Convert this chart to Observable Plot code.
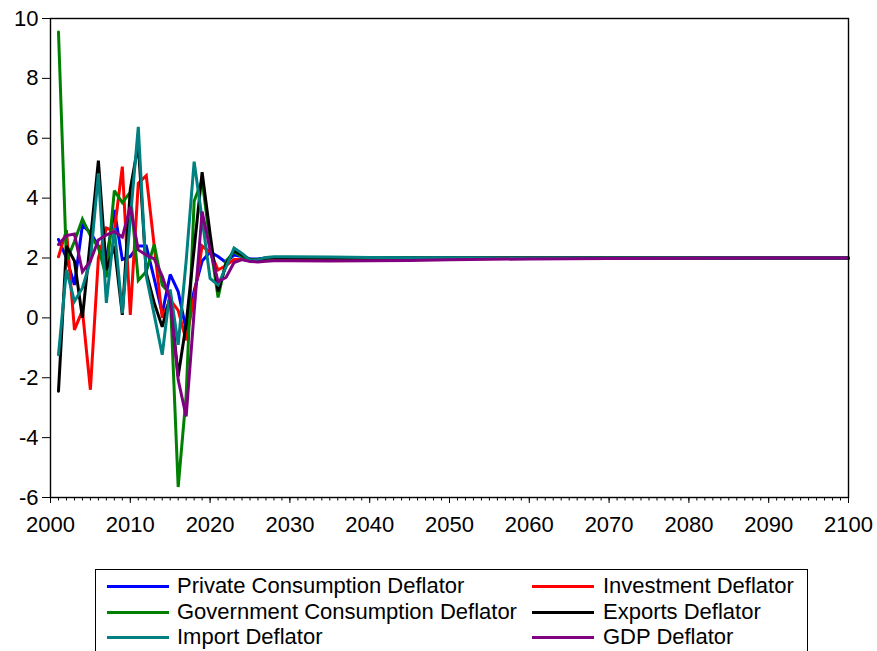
<!DOCTYPE html>
<html>
<head>
<meta charset="utf-8">
<script src="https://cdn.jsdelivr.net/npm/d3@7"></script>
<script src="https://cdn.jsdelivr.net/npm/@observablehq/plot@0.6"></script>
<style>
  html, body { margin: 0; padding: 0; background: #fff; }
  #wrap { position: relative; width: 877px; height: 651px; overflow: hidden; font-family: "Liberation Sans", Arial, sans-serif; }
  #chart svg { display: block; }
  #legend { position: absolute; left: 95px; top: 569px; width: 713px; height: 92px; border: 1px solid #000; box-sizing: border-box; background: #fff; }
  .item { position: absolute; height: 26px; line-height: 26px; font-size: 22px; white-space: nowrap; color: #000; }
  .sw { position: absolute; height: 3px; width: 62px; }
</style>
</head>
<body>
<div id="wrap">
  <div id="chart"></div>
  <div id="legend"></div>
</div>
<script>
// Annual observations through 2030, then the converged projection path
const years = [
  2001, 2002, 2003, 2004, 2005, 2006, 2007, 2008, 2009, 2010,
  2011, 2012, 2013, 2014, 2015, 2016, 2017, 2018, 2019, 2020,
  2021, 2022, 2023, 2024, 2025, 2026, 2027, 2028, 2029, 2030,
  2035, 2040, 2045, 2050, 2060, 2070, 2080, 2090, 2100
];

// Growth rates of each deflator, percent
const privateConsumption = [
  2.62, 2.00, 1.10, 3.10, 2.85, 2.40, 1.95, 3.60, 1.95, 2.05,
  2.40, 2.40, 1.30, 0.15, 1.45, 0.88, -0.40, 0.90, 1.90, 2.20,
  2.05, 1.85, 2.10, 2.05, 1.97, 1.97, 2.00, 2.02, 2.02, 2.02,
  2.01, 2.00, 2.00, 2.00, 2.00, 2.00, 2.00, 2.00, 2.00
];
const investment = [
  2.04, 2.93, -0.40, 0.25, -2.40, 2.00, 3.00, 2.90, 5.05, 0.10,
  4.50, 4.75, 2.40, 0.00, 0.60, 0.25, -0.75, 0.70, 2.40, 2.20,
  1.60, 1.75, 1.95, 1.95, 1.92, 1.92, 1.95, 1.97, 1.98, 1.98,
  1.97, 1.97, 1.98, 1.99, 2.00, 2.00, 2.00, 2.00, 2.00
];
const governmentConsumption = [
  9.55, 1.90, 2.55, 3.30, 2.75, 2.35, 1.35, 4.25, 3.85, 4.20,
  1.25, 1.55, 2.45, 1.10, 0.80, -5.65, -2.60, 3.90, 4.60, 2.50,
  0.68, 1.90, 2.20, 2.05, 1.95, 1.95, 1.98, 2.00, 2.00, 2.00,
  2.00, 2.00, 2.00, 2.00, 2.00, 2.00, 2.00, 2.00, 2.00
];
const exportsDeflator = [
  -2.45, 2.40, 1.90, 0.00, 2.60, 5.25, 1.60, 2.40, 0.10, 4.30,
  5.80, 1.50, 0.50, -0.30, 0.70, -1.95, -0.20, 2.30, 4.87, 2.80,
  0.88, 1.80, 2.25, 2.10, 1.95, 1.95, 2.00, 2.02, 2.02, 2.01,
  2.00, 2.00, 2.00, 2.00, 2.00, 2.00, 2.00, 2.00, 2.00
];
const importDeflator = [
  -1.23, 1.60, 0.55, 1.00, 1.90, 4.83, 0.50, 3.00, 0.15, 3.30,
  6.38, 1.40, 0.10, -1.23, 0.95, -0.90, 1.90, 5.22, 3.30, 1.32,
  1.10, 1.70, 2.33, 2.15, 1.93, 1.95, 2.02, 2.04, 2.04, 2.04,
  2.03, 2.02, 2.01, 2.01, 2.00, 2.00, 2.00, 2.00, 2.00
];
const gdpDeflator = [
  2.45, 2.75, 2.80, 1.54, 1.90, 2.60, 2.77, 2.88, 2.70, 3.72,
  2.27, 2.10, 1.97, 1.40, 0.60, -2.07, -3.29, 0.20, 3.55, 2.27,
  1.21, 1.35, 1.85, 1.95, 1.88, 1.87, 1.89, 1.91, 1.91, 1.91,
  1.90, 1.91, 1.92, 1.94, 1.97, 1.98, 1.99, 2.00, 2.00
];

const seriesNames = [
  "Private Consumption Deflator", "Investment Deflator",
  "Government Consumption Deflator", "Exports Deflator",
  "Import Deflator", "GDP Deflator"
];
const seriesValues = [privateConsumption, investment, governmentConsumption, exportsDeflator, importDeflator, gdpDeflator];
const seriesColors = ["#0000ff", "#ff0000", "#008000", "#000000", "#008080", "#800080"];

const yTicks = [-6, -4, -2, 0, 2, 4, 6, 8, 10];
const xTicks = [2000, 2010, 2020, 2030, 2040, 2050, 2060, 2070, 2080, 2090, 2100];
const xMinorTicks = d3.range(2000, 2101);

const chart = Plot.plot({
  width: 877,
  height: 545,
  marginLeft: 50,
  marginRight: 29,
  marginTop: 18,
  marginBottom: 48,
  style: { fontFamily: "Liberation Sans, Arial, sans-serif", fontSize: "22px", color: "#000", background: "#fff", overflow: "visible" },
  x: { domain: [2000, 2100] },
  y: { domain: [-6, 10] },
  marks: [
    Plot.axisX({ ticks: xMinorTicks, tickSize: 3.5, text: null, label: null, strokeWidth: 1 }),
    Plot.axisX({ ticks: xTicks, tickSize: 6, tickPadding: 13, tickFormat: d => String(d), label: null, fontSize: 22, strokeWidth: 1 }),
    Plot.axisY({ ticks: yTicks, tickSize: 8, tickPadding: 4, tickFormat: d => String(d), label: null, fontSize: 22, strokeWidth: 1 }),
    ...seriesValues.map((vals, i) =>
      Plot.line(years, { x: years, y: vals, stroke: seriesColors[i], strokeWidth: 3, strokeLinejoin: "miter", strokeMiterlimit: 3 })
    ),
    Plot.frame({ stroke: "#000", strokeWidth: 1.4 })
  ]
});
document.getElementById("chart").appendChild(chart);

// Legend: two columns, filled row by row
const legend = document.getElementById("legend");
const colText = [81, 507];
const colSwatch = [11, 436];
const rowMid = [16, 42, 67];
seriesNames.forEach((name, i) => {
  const col = i % 2, row = Math.floor(i / 2);
  const sw = document.createElement("div");
  sw.className = "sw";
  sw.style.left = colSwatch[col] + "px";
  sw.style.top = (rowMid[row] - 1.5) + "px";
  sw.style.background = seriesColors[i];
  legend.appendChild(sw);
  const t = document.createElement("div");
  t.className = "item";
  t.style.left = colText[col] + "px";
  t.style.top = (rowMid[row] - 13) + "px";
  t.textContent = name;
  legend.appendChild(t);
});
</script>
</body>
</html>
